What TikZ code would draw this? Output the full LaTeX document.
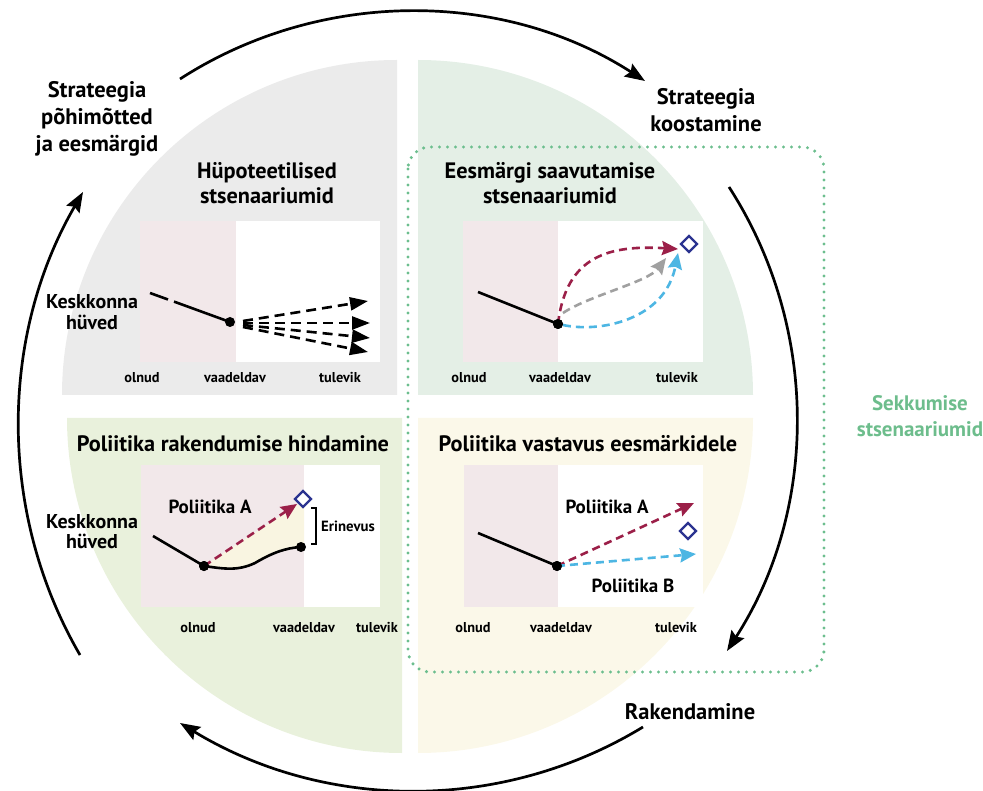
\documentclass[tikz,border=0pt]{standalone}
\usepackage{fontspec}
\setmainfont{PT Sans}
\usetikzlibrary{arrows.meta,shapes.geometric}
\definecolor{qgray}{HTML}{EBEBEB}
\definecolor{qgreen}{HTML}{E4EFE6}
\definecolor{qlime}{HTML}{E9F1DC}
\definecolor{qcream}{HTML}{FBF8E9}
\definecolor{pinkbg}{HTML}{F2E8EA}
\definecolor{wine}{HTML}{9B1F48}
\definecolor{skyb}{HTML}{4DB6E3}
\definecolor{arrgray}{HTML}{A0A0A0}
\definecolor{navy}{HTML}{2B3390}
\definecolor{dotgreen}{HTML}{6CBE8E}
\definecolor{lblgreen}{HTML}{6DBD8C}
\definecolor{gapfill}{HTML}{F9F5E1}
\begin{document}
\begin{tikzpicture}[x=1pt,y=-1pt,
  cyc/.style={line width=2.7pt, -{Stealth[length=20pt,width=15pt,inset=3pt]}},
  outerlbl/.style={font=\bfseries\fontsize{22.5}{27}\selectfont, align=center, anchor=base, inner sep=0},
  ttl/.style={font=\bfseries\fontsize{22.3}{25}\selectfont, align=center, anchor=base, inner sep=0},
  axl/.style={font=\bfseries\fontsize{14.3}{16}\selectfont, anchor=base, inner sep=0},
  ylbl/.style={font=\bfseries\fontsize{20}{21}\selectfont, align=center, anchor=base, inner sep=0},
  pol/.style={font=\bfseries\fontsize{19}{20}\selectfont, anchor=base, inner sep=0},
  small/.style={font=\bfseries\fontsize{14.8}{16}\selectfont, anchor=base, inner sep=0},
  pt/.style={circle, fill=black, inner sep=0, minimum size=10pt},
  goal/.style={diamond, draw=navy, line width=2.4pt, fill=white, inner sep=0, minimum size=17pt},
  hist/.style={line width=2.6pt},
  fan/.style={line width=2.6pt, dash pattern=on 10pt off 6pt, -{Triangle[length=18pt,width=13pt]}},
  carrow/.style={line width=2.6pt, dash pattern=on 8pt off 5pt, -{Stealth[length=16pt,width=14pt,inset=2pt]}},
]
\useasboundingbox (0,0) rectangle (983,791);

% quadrants
\fill[qgray] (397,395) -- (62,395) arc[start angle=180,end angle=270,radius=335] -- cycle;
\fill[qgreen] (418,395) -- (418,60) arc[start angle=270,end angle=360,radius=335] -- cycle;
\fill[qlime] (402,418) -- (67,418) arc[start angle=180,end angle=90,radius=335] -- cycle;
\fill[qcream] (418,418) -- (753,418) arc[start angle=0,end angle=90,radius=335] -- cycle;

% dotted frame
\draw[dotgreen, line width=3.4pt, line cap=round, dash pattern=on 0pt off 8pt, rounded corners=22pt] (408,147) rectangle (824,672);

% cycle arrows
\coordinate (ta) at (180,79);  \coordinate (tb) at (645,81);
\coordinate (ra) at (729,187); \coordinate (rb) at (727,651);
\coordinate (ba) at (643,727); \coordinate (bb) at (180,723);
\coordinate (la) at (80,655);  \coordinate (lb) at (83,192);
\draw[cyc] (ta) .. controls (321,-12) and (504,-10) .. (tb);
\draw[cyc] (ra) .. controls (820,328) and (818,510) .. (rb);
\draw[cyc] (ba) .. controls (500,814) and (323,810) .. (bb);
\draw[cyc] (la) .. controls (-3,512) and (0,335) .. (lb);

% outer labels (anchor = baseline of last line)
\node[outerlbl] (lprin) at (97,152) {Strateegia\\põhimõtted\\ja eesmärgid};
\node[outerlbl] (lkoos) at (706,132) {Strateegia\\koostamine};
\node[outerlbl, font=\bfseries\fontsize{21}{26}\selectfont, text=lblgreen] (lsekk) at (920,437) {Sekkumise\\stsenaariumid};
\node[outerlbl] (lrak) at (690,719) {Rakendamine};

% ---------- top-left panel
\node[ttl] (t1) at (267,204) {Hüpoteetilised\\stsenaariumid};
\fill[pinkbg] (140,221) rectangle (236,362);
\fill[white] (236,221) rectangle (380,362);
\node[ylbl] (k1) at (92,330) {Keskkonna\\hüved};
\coordinate (h1a) at (150,293); \coordinate (h1b) at (168,299.5);
\coordinate (h1c) at (174,301.6);
\node[pt] (p1) at (230,322) {};
\draw[hist] (h1a) -- (h1b);
\draw[hist] (h1c) -- (p1.center);
\coordinate (s1) at (243,321); \coordinate (s2) at (243,323);
\coordinate (s3) at (243,325); \coordinate (s4) at (243,327);
\coordinate (f1) at (368,301); \coordinate (f2) at (370,323);
\coordinate (f3) at (370,338); \coordinate (f4) at (368,352);
\draw[fan] (s1) -- (f1);
\draw[fan] (s2) -- (f2);
\draw[fan] (s3) -- (f3);
\draw[fan] (s4) -- (f4);
\node[axl] (o1) at (142,383) {olnud};
\node[axl] (v1) at (235,383) {vaadeldav};
\node[axl] (u1) at (340,383) {tulevik};

% ---------- top-right panel
\node[ttl] (t2) at (550,204) {Eesmärgi saavutamise\\stsenaariumid};
\fill[pinkbg] (463,221) rectangle (558,362);
\fill[white] (558,221) rectangle (703,362);
\coordinate (h2) at (478,292);
\node[pt] (p2) at (558,324) {};
\node[goal] (g2) at (689,244) {};
\coordinate (e2r) at (678,249); \coordinate (e2g) at (666,258); \coordinate (e2b) at (678,253);
\draw[carrow, wine] (p2.center) .. controls (566,255) and (610,245) .. (e2r);
\draw[carrow, arrgray] (563,313) .. controls (588,296) and (648,282) .. (e2g);
\draw[carrow, skyb] (563,325) .. controls (600,333) and (665,320) .. (e2b);
\draw[hist] (h2) -- (p2.center);
\node[pt] at (p2) {};
\node[axl] (o2) at (469,383) {olnud};
\node[axl] (v2) at (560,383) {vaadeldav};
\node[axl] (u2) at (677,383) {tulevik};

% ---------- bottom-left panel
\node[ttl] (t3) at (233,452) {Poliitika rakendumise hindamine};
\fill[pinkbg] (141,465) rectangle (304,607);
\fill[white] (304,465) rectangle (380,607);
\fill[gapfill] (204,566) -- (302,502) -- (304,502) -- (304,547) -- (301,547)
  .. controls (285,548) and (272,553) .. (255,563)
  .. controls (238,571) and (225,569) .. (204,566) -- cycle;
\node[ylbl, font=\bfseries\fontsize{20}{19.5}\selectfont] (k3) at (92,548) {Keskkonna\\hüved};
\node[pol] (pa3) at (210,513) {Poliitika A};
\coordinate (h3) at (153,536);
\node[pt] (p3) at (204,566) {};
\node[pt] (p4) at (301,547) {};
\draw[hist] (h3) -- (p3.center);
\draw[hist] (p3.center) .. controls (225,569) and (238,571) .. (255,563)
  .. controls (272,553) and (285,548) .. (p4.center);
\coordinate (e3) at (297,504);
\draw[carrow, wine] (p3.center) -- (e3);
\node[pt] at (p3) {};
\node[goal] (g3) at (303,499) {};
\coordinate (br1) at (311,508); \coordinate (br2) at (316,508);
\coordinate (br3) at (316,544); \coordinate (br4) at (311,544);
\draw[line width=2.4pt] (br1) -- (br2) -- (br3) -- (br4);
\node[small] (er) at (348,531) {Erinevus};
\node[axl] (o3) at (198,632) {olnud};
\node[axl] (v3) at (304,632) {vaadeldav};
\node[axl] (u3) at (377,632) {tulevik};

% ---------- bottom-right panel
\node[ttl] (t4) at (588,452) {Poliitika vastavus eesmärkidele};
\fill[pinkbg] (464,465) rectangle (558,607);
\fill[white] (558,465) rectangle (703,607);
\coordinate (h5) at (478,533);
\node[pt] (p5) at (557,566) {};
\coordinate (e5r) at (694,503); \coordinate (e5b) at (696,554);
\draw[carrow, wine] (p5.center) -- (e5r);
\draw[carrow, skyb] (p5.center) -- (e5b);
\draw[hist] (h5) -- (p5.center);
\node[pt] at (p5) {};
\node[goal] (g5) at (688,531) {};
\node[pol] (pa5) at (607,513) {Poliitika A};
\node[pol] (pb5) at (633,592) {Poliitika B};
\node[axl] (o5) at (473,632) {olnud};
\node[axl] (v5) at (561,632) {vaadeldav};
\node[axl] (u5) at (676,632) {tulevik};
\end{tikzpicture}
\end{document}
